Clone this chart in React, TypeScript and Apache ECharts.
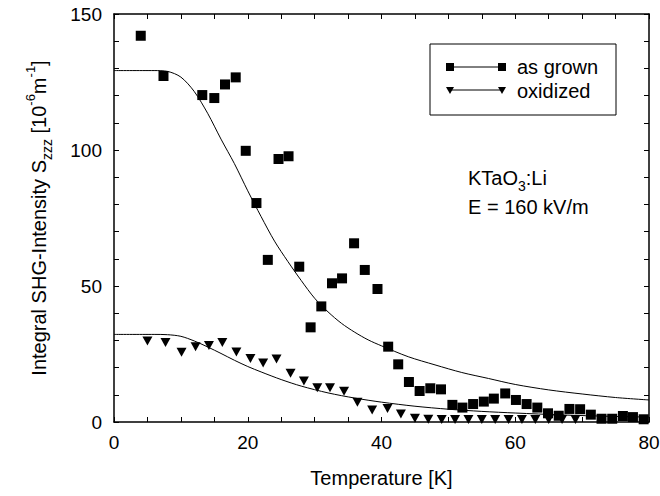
import React, { useEffect, useRef } from "react";
import * as echarts from "echarts";

const grownT = [4.0, 7.4, 13.2, 15.0, 16.6, 18.2, 19.7, 21.3, 23.0, 24.6, 26.1, 27.7, 29.4, 31.0, 32.6, 34.1, 35.9, 37.5, 39.4, 41.0, 42.5, 44.1, 45.7, 47.3, 48.9, 50.6, 52.1, 53.7, 55.3, 56.8, 58.5, 60.1, 61.7, 63.3, 64.9, 66.5, 68.1, 69.7, 71.3, 72.9, 74.5, 76.1, 77.6, 79.2];
const grownV = [142, 127.2, 120.2, 119.1, 124.1, 126.7, 99.7, 80.5, 59.6, 96.7, 97.7, 57.1, 34.8, 42.5, 51, 52.8, 65.7, 55.9, 48.9, 27.7, 21.2, 14.7, 11.4, 12.4, 12.0, 6.3, 5.3, 6.6, 7.5, 8.6, 10.5, 8.1, 6.6, 5.3, 3.2, 2.3, 4.8, 4.7, 2.7, 1.2, 1.2, 2.2, 1.8, 1.0];

const oxT = [5.0, 7.7, 10.1, 12.2, 14.2, 16.2, 18.3, 20.4, 22.3, 24.3, 26.4, 28.4, 30.4, 32.3, 34.4, 36.4, 38.6, 40.9, 42.9, 45.0, 47.0, 49.0, 51.0, 53.0, 55.0, 57.0, 59.0, 61.0, 63.0, 65.0, 67.0, 69.0];
const oxV = [29.8, 29.2, 25.6, 27.7, 28.1, 29.2, 25.7, 23.3, 21.7, 23.2, 17.9, 15.1, 12.6, 12.6, 11.3, 7.3, 4.4, 5.0, 2.9, 1.4, 1.0, 0.9, 0.9, 0.9, 0.9, 0.9, 0.9, 0.9, 0.9, 0.9, 0.9, 0.9];

const fitGrownT = [0, 6, 8, 10, 12, 14, 16, 18, 20, 22, 24, 26, 28, 30, 32, 34, 36, 38, 40, 44, 48, 52, 56, 60, 65, 70, 75, 80];
const fitGrownV = [129.2, 129.2, 128.9, 126.8, 121.5, 113.5, 104, 95, 85, 75.5, 66.5, 59, 52, 45.5, 40.5, 36.3, 33, 30.2, 28, 24, 21, 18.2, 16, 13.8, 11.8, 10.3, 9, 8.1];

const fitOxT = [0, 6, 8, 10, 12, 14, 16, 18, 20, 22, 25, 28, 32, 36, 40, 45, 50, 55, 60, 67, 74, 80];
const fitOxV = [32.2, 32.2, 32.1, 31.5, 29.8, 27.6, 25.2, 22.7, 20.4, 18.4, 15.6, 13.2, 10.7, 8.8, 7.3, 5.8, 4.7, 3.9, 3.3, 2.6, 2.1, 1.8];

const xTicks = [0, 20, 40, 60, 80];
const yTicks = [0, 50, 100, 150];

const FONT = "Liberation Sans, Arial, Helvetica, sans-serif";

const zip = (a: number[], b: number[]) => a.map((v, i) => [v, b[i]]);

export default function App() {
  const ref = useRef<HTMLDivElement>(null);
  useEffect(() => {
    if (!ref.current) return;
    const chart = echarts.init(ref.current, undefined, { renderer: "svg" });
    const tickStyle = { show: true, inside: true, length: 5, lineStyle: { color: "#000", width: 1 } };
    const minorStyle = { show: true, length: 5, lineStyle: { color: "#000", width: 1 } };
    const axisLine = { show: true, onZero: false, lineStyle: { color: "#000", width: 1.5 } };
    chart.setOption({
      animation: false,
      backgroundColor: "#fff",
      textStyle: { fontFamily: FONT },
      grid: { left: 114, right: 11, top: 14, bottom: 74, outerBoundsMode: "none", containLabel: false },
      xAxis: [
        {
          type: "value", min: 0, max: 80, interval: 20,
          axisLine, axisTick: tickStyle,
          minorTick: { ...minorStyle, splitNumber: 4 },
          splitLine: { show: false },
          axisLabel: { fontSize: 19, color: "#000", margin: 11, fontFamily: FONT, formatter: (v: number) => (xTicks.includes(v) ? String(v) : "") },
          name: "Temperature [K]", nameLocation: "middle", nameGap: 46,
          nameTextStyle: { fontSize: 20, color: "#000", fontFamily: FONT },
        },
        {
          type: "value", position: "top", min: 0, max: 80, interval: 20,
          axisLine, axisTick: tickStyle,
          minorTick: { ...minorStyle, splitNumber: 4 },
          splitLine: { show: false }, axisLabel: { show: false },
        },
      ],
      yAxis: [
        {
          type: "value", min: 0, max: 150, interval: 50,
          axisLine, axisTick: tickStyle,
          minorTick: { ...minorStyle, splitNumber: 5 },
          splitLine: { show: false },
          axisLabel: { fontSize: 19, color: "#000", margin: 12, fontFamily: FONT, formatter: (v: number) => (yTicks.includes(v) ? String(v) : "") },
          name: "Integral SHG-Intensity S{sub|zzz} [10{sup|-6}m{sup|-1}]",
          nameLocation: "middle", nameGap: 60,
          nameTextStyle: {
            fontSize: 20, color: "#000", fontFamily: FONT, lineHeight: 30,
            rich: {
              sub: { fontSize: 14, lineHeight: 12, verticalAlign: "bottom", color: "#000", fontFamily: FONT },
              sup: { fontSize: 13, lineHeight: 12, verticalAlign: "top", color: "#000", fontFamily: FONT },
            },
          },
        },
        {
          type: "value", position: "right", min: 0, max: 150, interval: 50,
          axisLine, axisTick: tickStyle,
          minorTick: { ...minorStyle, splitNumber: 5 },
          splitLine: { show: false }, axisLabel: { show: false },
        },
      ],
      series: [
        {
          name: "fit as grown", type: "line", data: zip(fitGrownT, fitGrownV), smooth: 0.3,
          showSymbol: false, symbol: "none", lineStyle: { color: "#000", width: 1 }, z: 1,
        },
        {
          name: "fit oxidized", type: "line", data: zip(fitOxT, fitOxV), smooth: 0.3,
          showSymbol: false, symbol: "none", lineStyle: { color: "#000", width: 1 }, z: 1,
        },
        {
          name: "as grown", type: "scatter", data: zip(grownT, grownV),
          symbol: "rect", symbolSize: 10, itemStyle: { color: "#000", opacity: 1 }, z: 3,
        },
        {
          name: "oxidized", type: "scatter", data: zip(oxT, oxV),
          symbol: "triangle", symbolRotate: 180, symbolSize: [10, 9], itemStyle: { color: "#000", opacity: 1 }, z: 3,
        },
      ],
      graphic: [
        { type: "rect", shape: { x: 430, y: 44, width: 186, height: 71 }, style: { fill: "#fff", stroke: "#000", lineWidth: 1 }, z: 10 },
        { type: "line", shape: { x1: 450, y1: 67, x2: 502, y2: 67 }, style: { stroke: "#000", lineWidth: 1 }, z: 11 },
        { type: "rect", shape: { x: 446, y: 63, width: 8, height: 8 }, style: { fill: "#000" }, z: 11 },
        { type: "rect", shape: { x: 498, y: 63, width: 8, height: 8 }, style: { fill: "#000" }, z: 11 },
        { type: "line", shape: { x1: 450, y1: 90, x2: 502, y2: 90 }, style: { stroke: "#000", lineWidth: 1 }, z: 11 },
        { type: "polygon", shape: { points: [[446, 87], [454, 87], [450, 94]] }, style: { fill: "#000" }, z: 11 },
        { type: "polygon", shape: { points: [[498, 87], [506, 87], [502, 94]] }, style: { fill: "#000" }, z: 11 },
        { type: "text", x: 517, y: 67, style: { text: "as grown", fontSize: 20, fill: "#000", fontFamily: FONT, verticalAlign: "middle" }, z: 11 },
        { type: "text", x: 517, y: 91, style: { text: "oxidized", fontSize: 20, fill: "#000", fontFamily: FONT, verticalAlign: "middle" }, z: 11 },
        {
          type: "text", x: 468, y: 178,
          style: {
            text: "KTaO{sub|3}:Li", fontSize: 20, fill: "#000", fontFamily: FONT, verticalAlign: "middle", lineHeight: 30,
            rich: { sub: { fontSize: 14, lineHeight: 12, verticalAlign: "bottom", fill: "#000", fontFamily: FONT } },
          },
          z: 11,
        },
        { type: "text", x: 468, y: 207, style: { text: "E = 160 kV/m", fontSize: 20, fill: "#000", fontFamily: FONT, verticalAlign: "middle" }, z: 11 },
      ],
    });
    return () => chart.dispose();
  }, []);
  return <div ref={ref} style={{ width: 660, height: 496, position: "absolute", left: 0, top: 0 }} />;
}
